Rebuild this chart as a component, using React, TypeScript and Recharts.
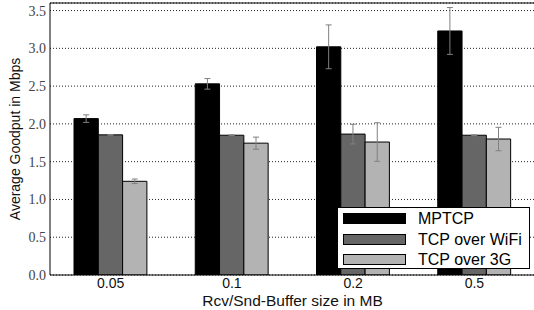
import React from 'react';
import { BarChart, Bar, XAxis, YAxis, CartesianGrid, ErrorBar, ReferenceLine, Label } from 'recharts';

const bufferSizes = ['0.05', '0.1', '0.2', '0.5'];
const mptcp = [2.07, 2.53, 3.02, 3.23];
const mptcpErr = [0.05, 0.07, 0.29, 0.31];
const wifi = [1.855, 1.85, 1.865, 1.85];
const wifiErr = [0.005, 0.005, 0.13, 0.005];
const threeG = [1.24, 1.745, 1.76, 1.8];
const threeGErr = [0.03, 0.08, 0.255, 0.155];
const yTicks = [0, 0.5, 1, 1.5, 2, 2.5, 3, 3.5];
const yMax = 3.6;

const series = [
  { key: 'mptcp', err: 'mptcpErr', name: 'MPTCP', fill: '#000000' },
  { key: 'wifi', err: 'wifiErr', name: 'TCP over WiFi', fill: '#666666' },
  { key: 'threeG', err: 'threeGErr', name: 'TCP over 3G', fill: '#b3b3b3' },
];

const data = bufferSizes.map((size, i) => ({
  size,
  mptcp: mptcp[i],
  mptcpErr: mptcpErr[i],
  wifi: wifi[i],
  wifiErr: wifiErr[i],
  threeG: threeG[i],
  threeGErr: threeGErr[i],
}));

const sans = '"Liberation Sans", Arial, sans-serif';

const App: React.FC = () => {
  return (
    <div style={{ position: 'absolute', left: 0, top: 0, width: 534, height: 310, overflow: 'hidden', background: '#fff' }}>
      <BarChart
        width={535}
        height={310}
        data={data}
        margin={{ top: 3, right: 0, left: 0, bottom: 0 }}
        barSize={24.3}
        barGap={0}
      >
        <CartesianGrid vertical={false} stroke="#222" strokeDasharray="1 2" />
        <XAxis
          dataKey="size"
          height={35}
          tickLine={false}
          tickSize={0}
          tickMargin={3}
          axisLine={{ stroke: '#000' }}
          tick={{ fontSize: 14, fill: '#111', fontFamily: sans }}
        >
          <Label value="Rcv/Snd-Buffer size in MB" position="center" dx={0} dy={7.5} style={{ fontSize: 15.5, fill: '#111', fontFamily: sans }} />
        </XAxis>
        <YAxis
          width={50}
          domain={[0, yMax]}
          ticks={yTicks}
          tickFormatter={(v: number) => v.toFixed(1)}
          tickLine={false}
          tickSize={0}
          tickMargin={4}
          axisLine={{ stroke: '#000' }}
          tick={{ fontSize: 14, fill: '#444', fontFamily: '"Liberation Serif", serif' }}
          allowDataOverflow
        >
          <Label value="Average Goodput in Mbps" angle={-90} position="center" dx={-10} style={{ fontSize: 14, fill: '#111', fontFamily: sans }} />
        </YAxis>
        <ReferenceLine y={yMax} stroke="#000" strokeWidth={1} />
        {series.map(s => (
          <Bar key={s.key} dataKey={s.key} name={s.name} fill={s.fill} stroke="#000" strokeWidth={1} isAnimationActive={false}>
            <ErrorBar dataKey={s.err} width={3} stroke="#808080" strokeWidth={1} direction="y" />
          </Bar>
        ))}
      </BarChart>
      <div
        style={{
          position: 'absolute',
          left: 337,
          top: 207,
          width: 191,
          height: 60,
          border: '1px solid #000',
          background: '#fff',
          fontFamily: sans,
          fontSize: 16,
        }}
      >
        {series.map((s, i) => (
          <div key={s.key} style={{ position: 'absolute', left: 5, top: 4 + i * 20.5, height: 13, display: 'flex', alignItems: 'center' }}>
            <div style={{ width: 61, height: 9, background: s.fill, border: '1.5px solid #000' }} />
            <span style={{ marginLeft: 12, color: '#000', lineHeight: '13px', whiteSpace: 'nowrap' }}>{s.name}</span>
          </div>
        ))}
      </div>
    </div>
  );
};

export default App;
